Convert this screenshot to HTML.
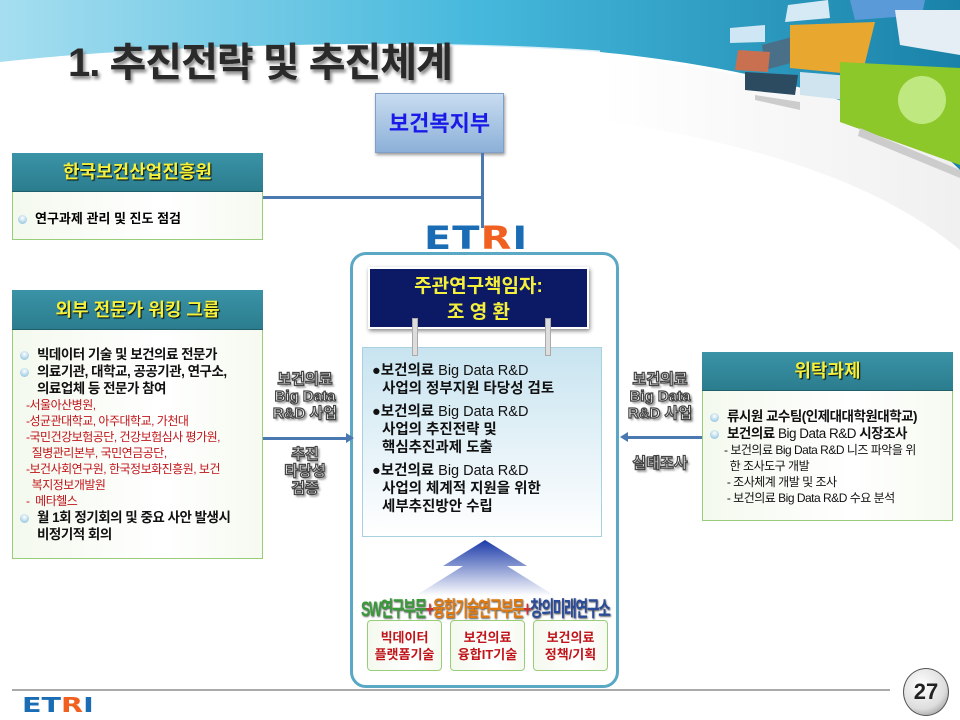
<!DOCTYPE html>
<html><head><meta charset="utf-8"><style>
*{margin:0;padding:0;box-sizing:border-box}
body{width:960px;height:720px;position:relative;overflow:hidden;background:#fff;font-family:"Liberation Sans","Noto Sans CJK KR",sans-serif}
.a{position:absolute}
.hdr{background:linear-gradient(#3a93a6,#2b7d8e);color:#f5f03a;font-weight:bold;text-align:center;text-shadow:1px 1px 1px #000;border-bottom:1px solid #1f5f6b}
.box{border:1px solid #9acd7a;background:linear-gradient(90deg,#f4f9ee,#fff 60%,#f6faf0)}
.sh{color:#fff;font-weight:bold;text-align:center;-webkit-text-stroke:1.2px #444;text-shadow:2px 2px 2px #777;font-size:15px;line-height:17px}
.dot{display:inline-block;width:9px;height:9px;border-radius:50%;background:radial-gradient(circle at 50% 35%,#fff,#7ab8d8);margin-right:8px;vertical-align:middle}
.red{color:#c0141a}
.logo{font-weight:900;color:#1a6db5;font-family:"DejaVu Sans","Liberation Sans",sans-serif;line-height:1}
</style></head><body>
<svg class="a" style="left:0;top:0" width="960" height="260">
<defs><linearGradient id="g1" x1="0" x2="1"><stop offset="0" stop-color="#a6def0"/><stop offset="0.5" stop-color="#45b8dc"/><stop offset="1" stop-color="#1a82a8"/></linearGradient>
<linearGradient id="g2" x1="0" x2="1"><stop offset="0" stop-color="#fff"/><stop offset="1" stop-color="#e6e6e6"/></linearGradient></defs>
<path d="M0 0H960V170C900 110 780 70 600 52 400 38 150 45 0 62Z" fill="url(#g1)"/>
<path d="M0 64C150 48 400 38 600 52" stroke="#fff" stroke-width="3" fill="none" opacity="0.8"/>
<path d="M0 80C150 60 400 50 620 62" stroke="#fff" stroke-width="2" fill="none" opacity="0.5"/>
<path d="M600 56C780 72 900 110 960 170V250C900 200 800 150 600 120Z" fill="url(#g2)" opacity="0.6"/>
<g transform="translate(600,0)">
<polygon points="130,28 165,25 165,42 130,43" fill="#cfe6f4"/>
<polygon points="162,45 200,35 202,60 165,70" fill="#4a6f88"/>
<polygon points="138,50 170,52 168,72 135,70" fill="#c87050"/>
<polygon points="145,72 198,75 195,95 145,90" fill="#2c4a60"/>
<polygon points="190,25 275,22 262,75 190,68" fill="#e8a830"/>
<polygon points="200,72 250,76 245,100 200,95" fill="#d0e4f0"/>
<polygon points="188,5 228,0 230,18 185,22" fill="#d6eaf6"/>
<polygon points="250,0 325,0 322,15 255,20" fill="#5a9ad8"/>
<polygon points="295,10 360,10 360,55 300,45" fill="#e4eef4"/>
<polygon points="240,62 360,68 360,165 240,122" fill="#8cc82a"/>
<circle cx="322" cy="100" r="24" fill="#c0e880"/>
<polygon points="155,95 200,102 200,110 155,100" fill="#ccc"/>
<polygon points="260,128 360,170 360,178 258,136" fill="#ccc"/>
</g>
</svg>
<div class="a" style="left:68px;top:30px;font-size:40px;font-weight:bold;color:#2a2a2a;text-shadow:2px 3px 3px #888;letter-spacing:-1px">1. 추진전략 및 추진체계</div>
<div class="a" style="left:375px;top:93px;width:129px;height:60px;background:linear-gradient(#c8dcf0,#8cb0d8);border:1px solid #7f9fc8;box-shadow:1px 2px 3px #999;color:#1a1ae8;font-weight:bold;font-size:22px;text-align:center;line-height:60px">보건복지부</div>
<div class="a" style="left:481px;top:153px;width:3px;height:75px;background:#4a78b0"></div>
<div class="a" style="left:262px;top:196px;width:220px;height:3px;background:#4a78b0"></div>
<div class="a box" style="left:12px;top:153px;width:251px;height:87px"></div>
<div class="a hdr" style="left:12px;top:153px;width:251px;height:39px;font-size:18px;line-height:39px">한국보건산업진흥원</div>
<div class="a" style="left:18px;top:208px;font-size:13px;font-weight:bold"><span class="dot"></span>연구과제 관리 및 진도 점검</div>
<div class="a logo" style="left:424px;top:222px;font-size:38px;letter-spacing:1px;transform:scaleX(1.05) scaleY(0.85);transform-origin:left top">ET<span style="color:#f06020">R</span>I</div>
<div class="a" style="left:350px;top:252px;width:269px;height:436px;border:3px solid #5aa8c4;border-radius:16px;background:#fff"></div>
<div class="a" style="left:368px;top:267px;width:221px;height:62px;background:#0c1a66;border:2px solid #fff;box-shadow:1px 2px 4px #888;color:#f5f03a;font-weight:bold;font-size:19px;text-align:center;line-height:26px;padding-top:5px">주관연구책임자:<br>조 영 환</div>
<div class="a" style="left:362px;top:347px;width:240px;height:190px;border:1px solid #a8d0e0;background:linear-gradient(#c8e4f0,#fff)"></div>
<div class="a" style="left:412px;top:318px;width:6px;height:38px;background:#ddd;border:1px solid #aaa"></div>
<div class="a" style="left:545px;top:318px;width:6px;height:38px;background:#ddd;border:1px solid #aaa"></div>
<div class="a" style="left:372px;top:362px;font-size:14.5px;font-weight:bold;line-height:18px;color:#111">
<div>●보건의료 <span style="font-weight:normal">Big Data R&amp;D</span></div><div style="padding-left:10px">사업의 정부지원 타당성 검토</div>
<div style="margin-top:5px">●보건의료 <span style="font-weight:normal">Big Data R&amp;D</span></div><div style="padding-left:10px">사업의 추진전략 및<br>핵심추진과제 도출</div>
<div style="margin-top:5px">●보건의료 <span style="font-weight:normal">Big Data R&amp;D</span></div><div style="padding-left:10px">사업의 체계적 지원을 위한<br>세부추진방안 수립</div></div>
<svg class="a" style="left:395px;top:536px" width="180" height="64"><defs><linearGradient id="ga" x1="0" y1="0" x2="0" y2="1"><stop offset="0" stop-color="#1a3aa8"/><stop offset="1" stop-color="#fff"/></linearGradient></defs>
<path d="M90 4L132 30H112L160 60H20L68 30H48Z" fill="url(#ga)"/></svg>
<div class="a" style="left:361px;top:593px;font-size:21px;font-weight:bold;white-space:nowrap;letter-spacing:-2px;transform:scaleX(0.655);transform-origin:left;text-shadow:1px 1px 2px #555"><span style="color:#3a9a3a">SW연구부문</span><span style="color:#d03030">+</span><span style="color:#e07a10">융합기술연구부문</span><span style="color:#d03030">+</span><span style="color:#2a4a9a">창의미래연구소</span></div>
<div class="a box" style="left:367px;top:620px;width:75px;height:51px;border-radius:4px;color:#c0141a;font-weight:bold;font-size:13px;text-align:center;line-height:17px;padding-top:8px">빅데이터<br>플랫폼기술</div>
<div class="a box" style="left:450px;top:620px;width:75px;height:51px;border-radius:4px;color:#c0141a;font-weight:bold;font-size:13px;text-align:center;line-height:17px;padding-top:8px">보건의료<br>융합IT기술</div>
<div class="a box" style="left:533px;top:620px;width:75px;height:51px;border-radius:4px;color:#c0141a;font-weight:bold;font-size:13px;text-align:center;line-height:17px;padding-top:8px">보건의료<br>정책/기획</div>
<div class="a box" style="left:12px;top:290px;width:251px;height:269px"></div>
<div class="a hdr" style="left:12px;top:290px;width:251px;height:40px;font-size:18px;line-height:40px">외부 전문가 워킹 그룹</div>
<div class="a" style="left:20px;top:346px;font-size:13.5px;font-weight:bold;line-height:17px;color:#111;letter-spacing:-0.5px">
<div><span class="dot"></span>빅데이터 기술 및 보건의료 전문가</div>
<div><span class="dot"></span>의료기관, 대학교, 공공기관, 연구소,</div>
<div style="padding-left:17px">의료업체 등 전문가 참여</div>
<div class="red" style="font-size:12px;font-weight:normal;line-height:16px;padding-left:6px">-서울아산병원,<br>-성균관대학교, 아주대학교, 가천대<br>-국민건강보험공단, 건강보험심사 평가원,<br>&nbsp;&nbsp;질병관리본부, 국민연금공단,<br>-보건사회연구원, 한국정보화진흥원, 보건<br>&nbsp;&nbsp;복지정보개발원<br>-&nbsp;&nbsp;메타헬스</div>
<div><span class="dot"></span>월 1회 정기회의 및 중요 사안 발생시</div>
<div style="padding-left:17px">비정기적 회의</div></div>
<div class="a" style="left:263px;top:437px;width:85px;height:3px;background:#4a78b0"></div>
<div class="a" style="left:346px;top:433px;width:0;height:0;border-left:8px solid #4a78b0;border-top:5px solid transparent;border-bottom:5px solid transparent"></div>
<div class="a sh" style="left:265px;top:371px;width:80px">보건의료<br>Big Data<br>R&amp;D 사업</div>
<div class="a sh" style="left:265px;top:446px;width:80px">추진<br>타당성<br>검증</div>
<div class="a box" style="left:702px;top:352px;width:251px;height:169px"></div>
<div class="a hdr" style="left:702px;top:352px;width:251px;height:39px;font-size:18px;line-height:39px">위탁과제</div>
<div class="a" style="left:710px;top:408px;font-size:13.5px;font-weight:bold;line-height:17px;color:#111;letter-spacing:-0.5px">
<div><span class="dot"></span>류시원 교수팀(인제대대학원대학교)</div>
<div><span class="dot"></span>보건의료 <span style="font-weight:normal">Big Data R&amp;D</span> 시장조사</div>
<div style="font-size:12px;font-weight:normal;line-height:16px;padding-left:14px">- 보건의료 Big Data R&amp;D 니즈 파악을 위<br>&nbsp;&nbsp;한 조사도구 개발<br>&nbsp;- 조사체계 개발 및 조사<br>&nbsp;- 보건의료 Big Data R&amp;D 수요 분석</div></div>
<div class="a" style="left:628px;top:436px;width:74px;height:3px;background:#4a78b0"></div>
<div class="a" style="left:620px;top:432px;width:0;height:0;border-right:8px solid #4a78b0;border-top:5px solid transparent;border-bottom:5px solid transparent"></div>
<div class="a sh" style="left:620px;top:371px;width:80px">보건의료<br>Big Data<br>R&amp;D 사업</div>
<div class="a sh" style="left:620px;top:455px;width:80px">실태조사</div>
<div class="a" style="left:12px;top:689px;width:878px;height:2px;background:#aaa"></div>
<div class="a logo" style="left:22px;top:695px;font-size:26px;letter-spacing:0px;transform:scaleX(1.1) scaleY(0.8);transform-origin:left top">ET<span style="color:#f06020">R</span>I</div>
<div class="a" style="left:903px;top:668px;width:46px;height:48px;border-radius:50%;background:radial-gradient(circle at 40% 35%,#fff,#ddd 60%,#777);border:1px solid #555;font-size:22px;font-weight:bold;color:#222;text-align:center;line-height:46px">27</div>
</body></html>
